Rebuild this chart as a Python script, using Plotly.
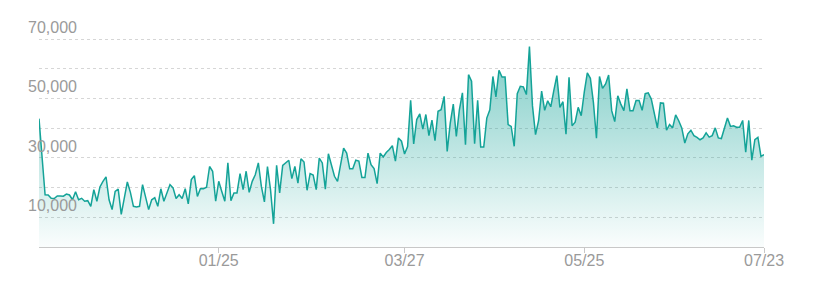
import pandas as pd
import plotly.graph_objects as go

# Daily values (thousands), 2022-11-27 .. 2023-07-23, split in four spans
values_nov_jan = [43.2, 30.0, 17.6, 17.5, 16.4, 16.3, 17.2, 17.2, 17.1, 17.8,
                  17.5, 15.9, 18.6, 15.9, 16.4, 15.4, 15.6, 13.7, 19.3, 15.4,
                  20.2, 22.1, 23.6, 15.9, 12.6, 18.7, 19.5, 11.0, 16.6, 21.9,
                  18.4, 13.7, 13.5, 13.7, 21.0, 16.6, 12.6, 15.9, 16.6, 13.7,
                  19.6, 15.4, 18.5, 21.0, 19.9, 16.3, 17.6, 16.3, 19.6, 14.5,
                  22.7, 24.0, 17.0, 19.7, 19.6, 20.1, 27.1, 25.5, 15.4, 22.1]
values_jan_mar = [18.7, 15.4, 28.3, 15.6, 18.2, 18.2, 24.7, 19.3, 25.5, 18.4,
                  22.1, 24.3, 28.3, 20.4, 15.2, 27.1, 19.3, 7.8, 27.5, 18.2,
                  27.5, 28.3, 29.2, 23.0, 27.1, 21.5, 29.7, 28.6, 19.1, 24.7,
                  24.2, 19.3, 29.9, 28.3, 19.5, 31.4, 27.1, 23.8, 22.1, 28.3,
                  33.3, 31.6, 26.3, 26.3, 29.2, 28.9, 23.4, 23.4, 31.6, 27.7,
                  26.4, 21.3, 31.6, 30.3, 31.8, 32.8, 34.1, 28.9, 36.7, 35.6]
values_mar_may = [31.3, 33.8, 49.4, 34.7, 42.9, 44.8, 39.7, 44.6, 37.5, 42.7,
                  35.8, 45.7, 46.2, 50.7, 32.2, 41.7, 48.1, 37.2, 46.2, 51.9,
                  34.4, 58.0, 55.8, 34.8, 49.4, 33.7, 33.7, 43.4, 46.2, 57.4,
                  50.5, 59.5, 57.2, 57.2, 41.2, 40.6, 33.9, 51.6, 54.1, 53.9,
                  51.3, 67.5, 47.5, 37.8, 42.5, 52.5, 46.0, 49.2, 47.2, 52.6,
                  57.7, 47.0, 48.9, 38.0, 57.1, 40.8, 42.0, 47.0, 44.2]
values_may_jul = [52.1, 58.6, 56.8, 48.7, 36.6, 57.4, 53.4, 54.9, 57.9, 45.9,
                  42.2, 50.9, 48.1, 45.9, 53.2, 45.9, 45.9, 49.3, 49.3, 46.0,
                  51.6, 51.9, 49.8, 44.5, 40.1, 48.5, 48.4, 39.3, 41.2, 40.1,
                  44.5, 42.5, 40.1, 35.0, 38.1, 39.3, 37.5, 36.9, 36.1, 36.7,
                  38.4, 37.0, 37.5, 40.1, 36.7, 36.5, 40.1, 43.4, 40.6, 40.8,
                  40.3, 40.3, 42.6, 31.9, 42.6, 29.2, 36.1, 36.9, 30.5, 31.1]

start_date = "2022-11-27"
tick_dates = ["2023-01-25", "2023-03-27", "2023-05-25", "2023-07-23"]
tick_labels = ["01/25", "03/27", "05/25", "07/23"]
y_label_values = [10000, 30000, 50000, 70000]
y_label_texts = ["10,000", "30,000", "50,000", "70,000"]

values = [v * 1000 for v in values_nov_jan + values_jan_mar + values_mar_may + values_may_jul]
dates = pd.date_range(start_date, periods=len(values), freq="D")

LINE = "#14a398"
GRAY = "#9a9a9a"
FONT = "Liberation Sans, Arial, sans-serif"

fig = go.Figure()
fig.add_trace(go.Scatter(
    x=dates, y=values, mode="lines",
    line=dict(color=LINE, width=1.5),
    fill="tozeroy",
    fillgradient=dict(type="vertical", start=0, stop=68000,
                      colorscale=[[0, "rgba(20,163,152,0.02)"], [1, "rgba(20,163,152,0.55)"]]),
    hoverinfo="skip",
))

annotations = []
for v, t in zip(y_label_values, y_label_texts):
    annotations.append(dict(
        x=0, xref="paper", y=v, yref="y", text=t, showarrow=False,
        xanchor="left", yanchor="bottom", xshift=-13, yshift=1,
        font=dict(family=FONT, size=16, color=GRAY),
    ))

fig.update_layout(
    width=814, height=295,
    margin=dict(l=39, r=50, t=38, b=48),
    paper_bgcolor="white", plot_bgcolor="white",
    showlegend=False,
    annotations=annotations,
    xaxis=dict(
        type="date",
        range=[dates[0], dates[-1]],
        tickvals=pd.to_datetime(tick_dates), ticktext=tick_labels,
        ticks="outside", ticklen=5, tickcolor="#c8c8c8", tickwidth=1,
        ticklabelstandoff=-6,
        showline=True, linecolor="#c8c8c8", linewidth=1,
        showgrid=False, zeroline=False,
        tickfont=dict(family=FONT, size=16, color=GRAY),
    ),
    yaxis=dict(
        range=[0, 70350], dtick=10000, tick0=0,
        showticklabels=False, ticks="",
        showgrid=True, gridcolor="#d6d6d6", gridwidth=1, griddash="3px,3px",
        zeroline=False, showline=False,
    ),
)

fig.write_html("out.html")
